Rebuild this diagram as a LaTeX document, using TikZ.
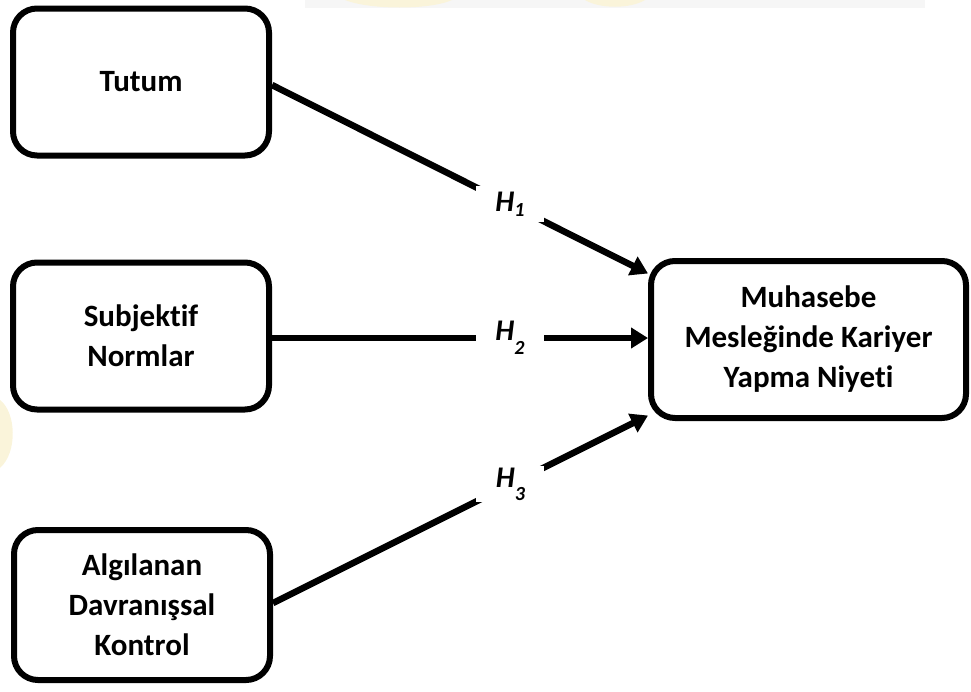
\documentclass[tikz,border=0pt]{standalone}
\usepackage{fontspec}
\setmainfont{Carlito}[Ligatures=NoCommon]
\usetikzlibrary{arrows.meta,calc}

\definecolor{washgray}{RGB}{246,246,246}
\definecolor{washcream}{RGB}{250,244,218}

% subscripted hypothesis label, second argument lowers the index
\newcommand{\hyp}[2]{\textit{H\raisebox{#2}{\fontsize{20}{20}\selectfont #1}}}

\begin{document}
\begin{tikzpicture}[x=1pt,y=-1pt,
  construct/.style={draw=black,line width=6pt,rounded corners=24pt,
    align=center,font=\bfseries\fontsize{31}{40}\selectfont,inner sep=0pt},
  leftbox/.style={construct,minimum width=256pt,minimum height=147pt},
  link/.style={line width=6.5pt,-{Triangle[length=17pt,width=20pt]}},
  hlabel/.style={fill=white,inner sep=0pt,minimum width=68pt,minimum height=36pt,
    font=\bfseries\fontsize{30}{32}\selectfont}]

  \useasboundingbox (0,0) rectangle (971,691);

  % faint background wash along the top and left edges
  \fill[washgray] (305,0) rectangle (925,8);
  \fill[washcream] (345,0) .. controls (370,10) and (430,10) .. (452,0) -- cycle;
  \fill[washcream] (585,0) .. controls (600,9) and (630,9) .. (645,0) -- cycle;
  \fill[washcream] (0,400) .. controls (16,412) and (18,452) .. (0,468) -- cycle;

  \node[leftbox] (tutum)  at (141,82)  {Tutum};
  \node[leftbox] (norm)   at (141,336) {Subjektif\\Normlar};
  \node[leftbox,minimum height=150pt] (kontrol) at (142,605) {Algılanan\\Davranışsal\\Kontrol};
  \node[construct,minimum width=315pt,minimum height=157pt] (niyet) at (808.5,339.5)
    {Muhasebe\\Mesleğinde Kariyer\\Yapma Niyeti};

  \coordinate (t1) at ($(niyet.west)+(0,-66)$);
  \coordinate (t3) at ($(niyet.west)+(0,76)$);

  \draw[link] (tutum.east |- 0,85) -- node[hlabel,pos=0.633] (h1) {\hyp{1}{-0.15em}} (t1);
  \draw[link] (norm.east |- 0,338) -- node[hlabel,pos=0.633] (h2) {\hyp{2}{-0.45em}} (niyet.west |- 0,338);
  \draw[link] (kontrol.east |- 0,603) -- node[hlabel,pos=0.633] (h3) {\hyp{3}{-0.45em}} (t3);
\end{tikzpicture}
\end{document}
